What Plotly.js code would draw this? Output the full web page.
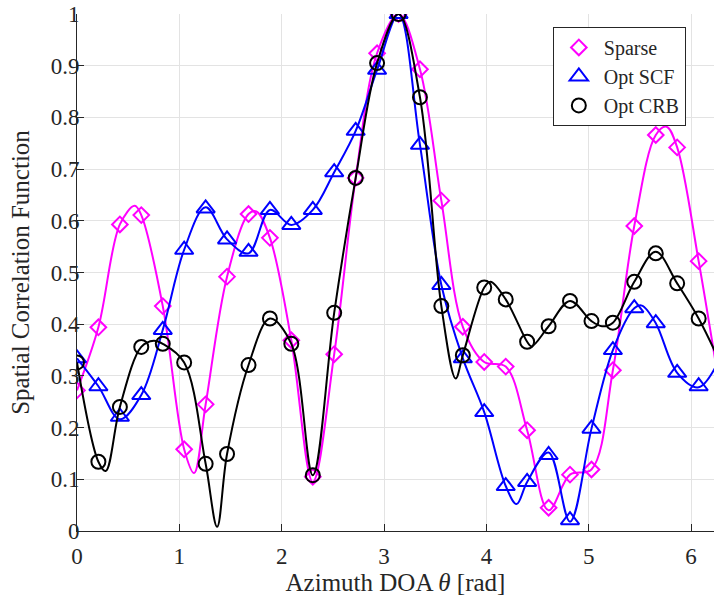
<!DOCTYPE html>
<html>
<head>
<meta charset="utf-8">
<script src="https://cdn.plot.ly/plotly-3.0.1.min.js"></script>
<style>
html,body{margin:0;padding:0;background:#fff;}
#chart{width:714px;height:599px;}
</style>
</head>
<body>
<div id="chart"></div>
<script>
// Sample angles (rad) where markers are drawn
const sampleTheta = [0, 0.209, 0.419, 0.628, 0.838, 1.047, 1.257, 1.466, 1.676, 1.885,
  2.094, 2.304, 2.513, 2.723, 2.932, 3.142, 3.351, 3.560, 3.770, 3.979,
  4.189, 4.398, 4.608, 4.817, 5.027, 5.236, 5.445, 5.655, 5.864, 6.074];

// Marker values
const sparseMarks = [0.272, 0.394, 0.593, 0.611, 0.435, 0.158, 0.245, 0.492, 0.613, 0.567,
  0.369, 0.105, 0.342, 0.683, 0.924, 1.000, 0.893, 0.639, 0.395, 0.327,
  0.318, 0.195, 0.045, 0.109, 0.119, 0.311, 0.590, 0.766, 0.742, 0.522];
const scfMarks = [0.334, 0.280, 0.221, 0.263, 0.389, 0.544, 0.624, 0.564, 0.540, 0.621,
  0.592, 0.621, 0.694, 0.774, 0.892, 1.000, 0.747, 0.476, 0.334, 0.230,
  0.087, 0.095, 0.147, 0.021, 0.198, 0.350, 0.431, 0.402, 0.306, 0.280];
const crbMarks = [0.326, 0.134, 0.240, 0.356, 0.362, 0.326, 0.130, 0.149, 0.321, 0.411,
  0.362, 0.108, 0.422, 0.683, 0.905, 1.000, 0.839, 0.435, 0.340, 0.471,
  0.448, 0.366, 0.396, 0.445, 0.406, 0.403, 0.482, 0.537, 0.479, 0.411];

// Continuous curves (marker points plus extrema)
const sparseLineTheta = [0, 0.209, 0.419, 0.564, 0.628, 0.838, 1.047, 1.144, 1.257, 1.466,
  1.676, 1.753, 1.885, 2.094, 2.304, 2.513, 2.723, 2.932, 3.142, 3.351,
  3.560, 3.770, 3.979, 4.189, 4.398, 4.608, 4.817, 5.027, 5.236, 5.445,
  5.655, 5.760, 5.864, 6.074, 6.283];
const sparseLine = [0.272, 0.394, 0.593, 0.629, 0.611, 0.435, 0.158, 0.112, 0.245, 0.492,
  0.613, 0.618, 0.567, 0.369, 0.095, 0.342, 0.683, 0.924, 1.000, 0.893,
  0.639, 0.395, 0.327, 0.318, 0.195, 0.040, 0.109, 0.119, 0.311, 0.590,
  0.766, 0.782, 0.742, 0.522, 0.272];

const scfLineTheta = [0, 0.209, 0.419, 0.628, 0.838, 1.047, 1.257, 1.466, 1.676, 1.885,
  2.094, 2.304, 2.513, 2.723, 2.932, 3.142, 3.351, 3.560, 3.770, 3.979,
  4.189, 4.295, 4.398, 4.608, 4.817, 5.027, 5.236, 5.445, 5.520, 5.655,
  5.864, 6.074, 6.283];
const scfLine = [0.334, 0.280, 0.216, 0.263, 0.389, 0.544, 0.626, 0.564, 0.537, 0.621,
  0.592, 0.621, 0.694, 0.774, 0.892, 1.000, 0.747, 0.476, 0.334, 0.230,
  0.087, 0.052, 0.095, 0.152, 0.018, 0.198, 0.350, 0.431, 0.436, 0.402,
  0.306, 0.278, 0.334];

const crbLineTheta = [0, 0.209, 0.280, 0.419, 0.628, 0.750, 0.838, 1.047, 1.257, 1.369,
  1.466, 1.676, 1.885, 2.094, 2.304, 2.513, 2.723, 2.932, 3.142, 3.351,
  3.560, 3.700, 3.770, 3.979, 4.040, 4.189, 4.398, 4.440, 4.608, 4.817,
  5.027, 5.130, 5.236, 5.445, 5.655, 5.864, 6.074, 6.283];
const crbLine = [0.326, 0.134, 0.116, 0.240, 0.356, 0.368, 0.362, 0.326, 0.130, 0.008,
  0.149, 0.321, 0.411, 0.362, 0.108, 0.422, 0.683, 0.905, 1.000, 0.839,
  0.435, 0.295, 0.340, 0.471, 0.482, 0.448, 0.366, 0.357, 0.396, 0.445,
  0.406, 0.396, 0.403, 0.482, 0.540, 0.479, 0.411, 0.326];

const seriesNames = ['Sparse', 'Opt SCF', 'Opt CRB'];
const xTickVals = [0, 1, 2, 3, 4, 5, 6];
const yTickVals = [0, 0.1, 0.2, 0.3, 0.4, 0.5, 0.6, 0.7, 0.8, 0.9, 1];
const yTickText = ['0', '0.1', '0.2', '0.3', '0.4', '0.5', '0.6', '0.7', '0.8', '0.9', '1'];

const colors = ['#ff00ff', '#0000ff', '#000000'];
const symbols = ['diamond-open', 'triangle-up-open', 'circle-open'];
const sizes = [12, 16, 14];

const lineX = [sparseLineTheta, scfLineTheta, crbLineTheta];
const lineY = [sparseLine, scfLine, crbLine];
const markY = [sparseMarks, scfMarks, crbMarks];

const FONT = 'Times New Roman';

const traces = [];
for (let i = 0; i < 3; i++) {
  traces.push({
    x: lineX[i], y: lineY[i], mode: 'lines', type: 'scatter',
    line: {color: colors[i], width: 2, shape: 'spline', smoothing: 1},
    showlegend: false, hoverinfo: 'skip', cliponaxis: true
  });
  traces.push({
    x: sampleTheta, y: markY[i], mode: 'markers', type: 'scatter', name: seriesNames[i],
    marker: {symbol: symbols[i], size: sizes[i], color: colors[i], line: {color: colors[i], width: 2}},
    cliponaxis: true
  });
}

const axisCommon = {
  showgrid: true, gridcolor: '#e3e3e3', gridwidth: 1,
  zeroline: false, showline: true, linecolor: '#262626', linewidth: 1,
  ticks: 'inside', ticklen: 7, tickcolor: '#262626', tickwidth: 1,
  tickfont: {family: FONT, size: 23, color: '#262626'}
};

const layout = {
  width: 714, height: 599,
  margin: {l: 77, r: 0, t: 14, b: 68, pad: 0},
  paper_bgcolor: '#ffffff', plot_bgcolor: '#ffffff',
  font: {family: FONT, size: 20, color: '#262626'},
  xaxis: Object.assign({}, axisCommon, {
    range: [0, 6.224], tickvals: xTickVals, ticktext: xTickVals.map(String),
    ticklabelstandoff: 4,
    title: {text: 'Azimuth DOA <i>θ</i> [rad]', font: {family: FONT, size: 25, color: '#262626'}, standoff: 0}
  }),
  yaxis: Object.assign({}, axisCommon, {
    range: [0, 1], tickvals: yTickVals, ticktext: yTickText,
    ticklabelstandoff: -8,
    title: {text: 'Spatial Correlation Function', font: {family: FONT, size: 25, color: '#262626'}, standoff: 13}
  }),
  legend: {
    x: 0.747, y: 0.975, xanchor: 'left', yanchor: 'top',
    bgcolor: '#ffffff', bordercolor: '#262626', borderwidth: 1,
    font: {family: FONT, size: 20, color: '#262626'},
    tracegroupgap: 0, itemwidth: 40, entrywidth: 112, entrywidthmode: 'pixels'
  },
  showlegend: true
};

Plotly.newPlot('chart', traces, layout, {displayModeBar: false, staticPlot: true});
</script>
</body>
</html>
